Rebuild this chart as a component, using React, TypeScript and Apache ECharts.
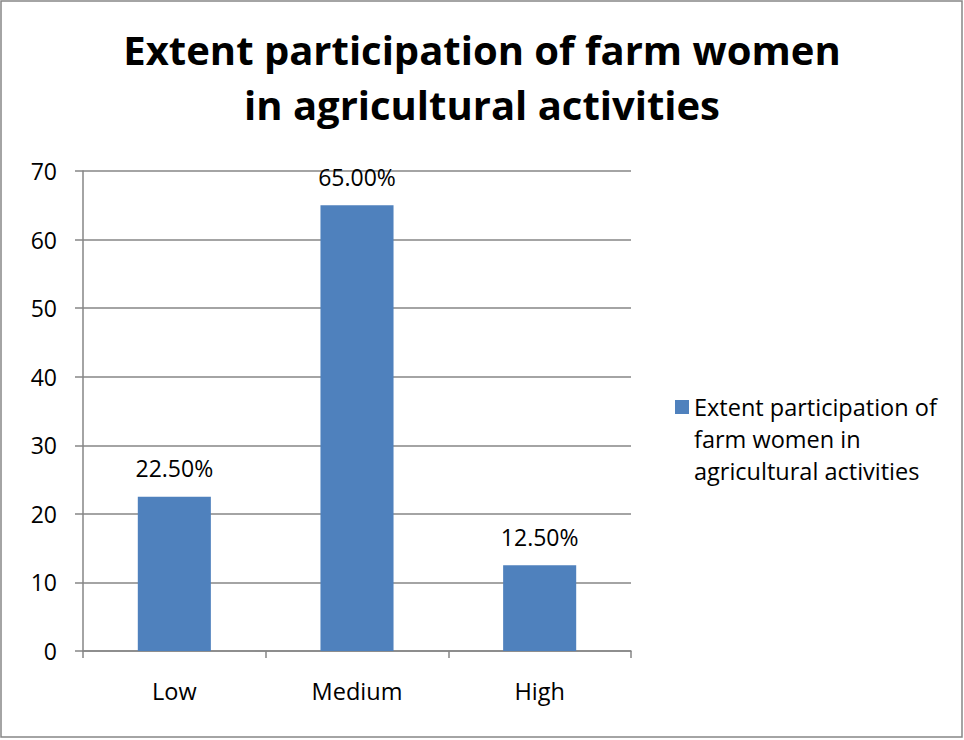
import React, { useEffect, useRef } from "react";
import * as echarts from "echarts";

const categories = ["Low", "Medium", "High"];
const values = [22.5, 65.0, 12.5];
const labels = ["22.50%", "65.00%", "12.50%"];
const seriesName = "Extent participation of farm women in agricultural activities";
const legendLines = ["Extent participation of", "farm women in", "agricultural activities"];
const titleText = "Extent participation of farm women\nin agricultural activities";

const FONT = "'Open Sans', sans-serif";

export default function App() {
  const ref = useRef<HTMLDivElement>(null);
  useEffect(() => {
    if (!ref.current) return;
    const chart = echarts.init(ref.current, null, { renderer: "svg" });
    chart.setOption({
      animation: false,
      backgroundColor: "#ffffff",
      textStyle: { fontFamily: FONT },
      title: {
        text: titleText,
        left: "center",
        top: 22,
        padding: 0,
        textStyle: {
          fontFamily: FONT,
          fontWeight: "bold",
          fontSize: 40,
          lineHeight: 55,
          color: "#000000",
        },
      },
      graphic: [
        {
          type: "rect",
          shape: { x: 1, y: 1, width: 961, height: 736 },
          style: { fill: "none", stroke: "#868686", lineWidth: 1.5 },
          silent: true,
        },
      ],
      legend: {
        left: 675,
        top: 327,
        padding: 0,
        itemWidth: 14,
        itemHeight: 14,
        icon: "rect",
        formatter: () => "\n\n" + legendLines.join("\n"),
        textStyle: {
          fontFamily: FONT,
          fontSize: 23.5,
          lineHeight: 32,
          color: "#000000",
        },
        data: [seriesName],
      },
      grid: { left: 83, right: 333, top: 171, bottom: 89, containLabel: false },
      xAxis: {
        type: "category",
        data: categories,
        axisLine: { show: true, lineStyle: { color: "#868686", width: 1.5 } },
        axisTick: { show: true, length: 7, lineStyle: { color: "#868686", width: 1.5 } },
        axisLabel: { fontFamily: FONT, fontSize: 23.5, color: "#000000", margin: 28 },
      },
      yAxis: {
        type: "value",
        min: 0,
        max: 70,
        interval: 10,
        axisLine: { show: true, lineStyle: { color: "#868686", width: 1.5 } },
        axisTick: { show: true, length: 8, lineStyle: { color: "#868686", width: 1.5 } },
        splitLine: { show: true, lineStyle: { color: "#868686", width: 1.5 } },
        axisLabel: { fontFamily: FONT, fontSize: 23, color: "#000000", margin: 26 },
      },
      series: [
        {
          name: seriesName,
          type: "bar",
          data: values,
          barWidth: "40%",
          itemStyle: { color: "#4F81BD" },
          label: {
            show: true,
            position: "top",
            distance: 17,
            fontFamily: FONT,
            fontSize: 23,
            color: "#000000",
            formatter: (p: any) => labels[p.dataIndex],
          },
        },
      ],
    });
    return () => chart.dispose();
  }, []);
  return (
    <div
      ref={ref}
      style={{ position: "fixed", left: 0, top: 0, width: 964, height: 740 }}
    />
  );
}
